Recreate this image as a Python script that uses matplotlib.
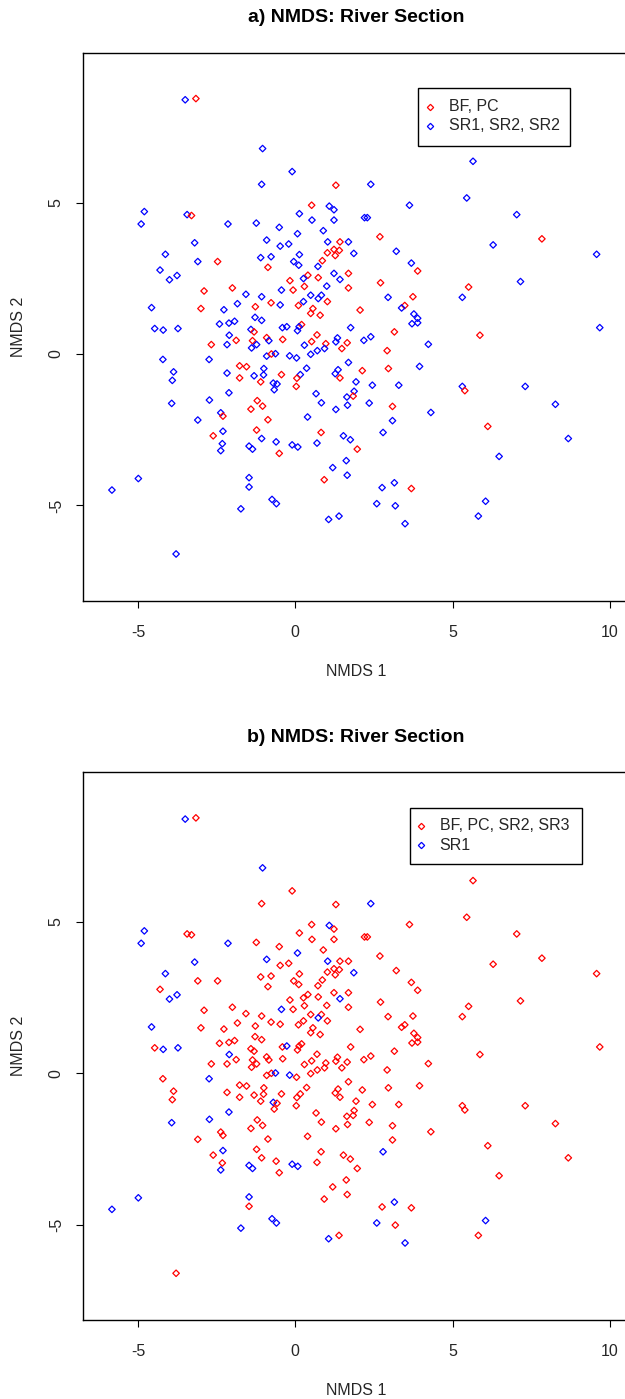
import matplotlib
matplotlib.use("Agg")
import matplotlib.pyplot as plt
from matplotlib.patches import Rectangle

plt.rcParams["font.family"] = ["Liberation Sans", "DejaVu Sans"]
plt.rcParams["axes.unicode_minus"] = False

# NMDS site scores (axis 1, axis 2) and river section of each site.
# "BF_PC" = BF or PC, "SR1" = SR1, "SR23" = SR2 or SR3
nmds1 = [
    -3.50, -3.16, -1.04, -0.10, -1.07, 1.29, -4.80, -4.90, -3.44, -3.30,
    -2.14, -3.20, -4.13, -3.10, -2.47, -4.30, -4.00, -3.76, -2.90, -2.00,
    -1.57, -4.57, -3.00, -2.27, -1.84, -2.41, -2.11, -1.93,
    5.65, 2.40, 5.45, 7.04, 7.84, 6.29, 9.58, 7.16, 5.51, 5.31,
    -4.47, -4.20, -3.73, -2.10, -1.88, -2.67, -2.17, -4.21, -2.74, -3.87,
    -3.91, -2.17, -1.77, -1.55, -1.77, -2.11, -3.93, -2.73, -2.37, -2.30,
    -3.10, -2.30, -2.61, -2.32, -2.37, -1.47, -4.99, -5.83, -1.47, -1.47,
    -1.73, -0.74, -0.60, 1.06, 1.39, -3.79, 0.92, 1.65,
    9.68, 5.87, 5.31, 5.39, 7.31, 8.27, 4.31, 6.12, 8.68, 6.48,
    2.76, 3.15, 3.69, 2.59, 3.18, 6.05, 5.82, 3.49,
    0.52, 1.08, 1.23, 3.63, 0.13, 0.53, 1.23, 2.20, 2.29, -1.24,
    -0.51, 0.89, 0.07, 2.69, -0.91, 1.03, 1.42, 1.69, -0.48, -0.21,
    1.23, 1.40, 1.02, 1.86, 3.21, 0.13, 1.27, -1.10, -0.77, 0.86,
    -0.05, 0.11, 0.72, 3.69, -0.87, 3.89, 1.23, 1.69, 0.40, 0.26,
    0.73, 1.42, -0.17, 2.71, 0.29, 1.00, 1.69, -0.44, -0.07, 0.49,
    0.83, 0.73, -1.07, 3.74, 2.95, 0.26, 1.02, -0.77, -0.48, 0.10,
    -1.27, 3.48, 3.38, 0.56, 2.06, 0.49, 0.79, 3.77, 3.89, 3.71,
    3.89, -1.28, -1.07, -0.41, -0.27, 0.20, 0.12, 0.07, 1.76, -1.41,
    -1.31, 3.15, -0.91, -0.84, -0.40, 0.69, 0.52, 1.34, 1.29, 2.40,
    2.18, 1.65, 4.23, -1.36, -1.23, -1.39, 0.29, 0.97, 0.93, 0.70,
    1.48, 2.92, 0.49, -0.91, -0.76, -0.63, -0.18, 0.04, 1.69, 3.95,
    -1.00, 0.36, 2.13, 2.96, 1.36, 1.27, -1.01, -1.31, -0.44, 0.16,
    1.42, 0.05, -1.10, -0.70, -0.58, 1.93, 2.45, 3.29, 0.03, -0.67,
    1.87, 1.84, 1.64, 0.66, 0.83, 2.35, -1.21, -1.04, 1.66, 3.09,
    -1.41, 1.29, -0.87, 0.39, 3.09, 0.82, -1.23, 2.79, 1.53, 1.75,
    -1.07, -0.61, -0.10, 0.08, 0.69, 1.97, -1.36, -0.51, 1.62, 1.19,
]
nmds2 = [
    8.39, 8.43, 6.78, 6.02, 5.60, 5.57, 4.70, 4.29, 4.60, 4.57,
    4.29, 3.67, 3.29, 3.05, 3.05, 2.77, 2.45, 2.59, 2.08, 2.18,
    1.97, 1.53, 1.50, 1.46, 1.66, 0.99, 1.02, 1.08,
    6.36, 5.60, 5.15, 4.60, 3.80, 3.60, 3.29, 2.39, 2.21, 1.87,
    0.84, 0.79, 0.84, 0.62, 0.45, 0.31, 0.31, -0.18, -0.18, -0.59,
    -0.87, -0.63, -0.39, -0.42, -0.79, -1.28, -1.63, -1.52, -1.94, -2.05,
    -2.18, -2.55, -2.70, -2.96, -3.19, -3.04, -4.11, -4.49, -4.08, -4.39,
    -5.11, -4.80, -4.94, -5.46, -5.35, -6.60, -4.15, -4.00,
    0.87, 0.62, -1.07, -1.21, -1.07, -1.66, -1.93, -2.39, -2.79, -3.38,
    -4.41, -4.25, -4.44, -4.94, -5.01, -4.86, -5.35, -5.60,
    4.91, 4.88, 4.76, 4.91, 4.63, 4.42, 4.42, 4.50, 4.50, 4.32,
    4.18, 4.07, 3.97, 3.87, 3.76, 3.70, 3.70, 3.70, 3.56, 3.63,
    3.45, 3.42, 3.34, 3.32, 3.39, 3.28, 3.25, 3.18, 3.21, 3.08,
    3.05, 2.93, 2.89, 3.00, 2.86, 2.74, 2.66, 2.66, 2.60, 2.49,
    2.52, 2.46, 2.42, 2.35, 2.23, 2.24, 2.18, 2.11, 2.11, 1.94,
    1.94, 1.83, 1.89, 1.89, 1.87, 1.73, 1.73, 1.69, 1.62, 1.60,
    1.56, 1.60, 1.52, 1.50, 1.45, 1.34, 1.28, 1.32, 1.18, 1.00,
    1.03, 1.21, 1.11, 0.87, 0.90, 0.97, 0.90, 0.77, 0.87, 0.81,
    0.73, 0.73, 0.54, 0.44, 0.48, 0.63, 0.41, 0.53, 0.40, 0.57,
    0.45, 0.37, 0.32, 0.44, 0.31, 0.20, 0.29, 0.34, 0.18, 0.11,
    0.18, 0.11, -0.01, -0.07, 0.00, 0.01, -0.06, -0.13, -0.28, -0.41,
    -0.48, -0.47, -0.55, -0.48, -0.52, -0.65, -0.69, -0.72, -0.68, -0.68,
    -0.79, -0.80, -0.92, -0.96, -0.99, -0.92, -1.03, -1.03, -1.07, -1.18,
    -1.23, -1.39, -1.42, -1.31, -1.61, -1.62, -1.54, -1.72, -1.69, -1.73,
    -1.82, -1.83, -2.17, -2.08, -2.20, -2.59, -2.51, -2.59, -2.70, -2.83,
    -2.79, -2.90, -3.00, -3.07, -2.94, -3.14, -3.14, -3.28, -3.52, -3.75,
]
section = [
    "SR1", "BF_PC", "SR1", "SR23", "SR23", "BF_PC", "SR1", "SR1", "SR23", "BF_PC",
    "SR1", "SR1", "SR1", "SR23", "BF_PC", "SR23", "SR1", "SR1", "BF_PC", "BF_PC",
    "SR23", "SR1", "BF_PC", "SR23", "SR23", "SR23", "SR23", "SR23",
    "SR23", "SR1", "SR23", "SR23", "BF_PC", "SR23", "SR23", "SR23", "BF_PC", "SR23",
    "SR23", "SR1", "SR1", "SR1", "BF_PC", "BF_PC", "SR23", "SR23", "SR1", "SR23",
    "SR23", "SR23", "BF_PC", "BF_PC", "BF_PC", "SR1", "SR1", "SR1", "SR23", "BF_PC",
    "SR23", "SR1", "BF_PC", "SR23", "SR1", "SR1", "SR1", "SR1", "SR1", "SR23",
    "SR1", "SR1", "SR1", "SR1", "SR23", "SR23", "BF_PC", "SR23",
    "SR23", "BF_PC", "SR23", "BF_PC", "SR23", "SR23", "SR23", "BF_PC", "SR23", "SR23",
    "SR23", "SR1", "BF_PC", "SR1", "SR23", "SR1", "SR23", "SR1",
    "BF_PC", "SR1", "SR23", "SR23", "SR23", "SR23", "SR23", "SR23", "SR23", "SR23",
    "SR23", "SR23", "SR1", "BF_PC", "SR1", "SR1", "BF_PC", "SR23", "SR23", "SR23",
    "BF_PC", "BF_PC", "BF_PC", "SR1", "SR23", "SR23", "BF_PC", "SR23", "SR23", "BF_PC",
    "SR23", "SR23", "SR23", "SR23", "BF_PC", "BF_PC", "SR23", "BF_PC", "BF_PC", "SR23",
    "BF_PC", "SR1", "BF_PC", "BF_PC", "BF_PC", "SR23", "BF_PC", "SR1", "BF_PC", "SR23",
    "SR23", "SR1", "SR23", "BF_PC", "SR23", "SR23", "BF_PC", "BF_PC", "SR23", "BF_PC",
    "BF_PC", "BF_PC", "SR23", "BF_PC", "BF_PC", "BF_PC", "BF_PC", "SR23", "SR23", "SR23",
    "SR23", "SR23", "SR23", "SR23", "SR1", "BF_PC", "SR23", "SR23", "SR23", "SR23",
    "BF_PC", "BF_PC", "BF_PC", "SR23", "BF_PC", "BF_PC", "BF_PC", "SR23", "SR23", "SR23",
    "SR23", "BF_PC", "SR23", "BF_PC", "SR23", "SR23", "SR23", "BF_PC", "SR23", "SR23",
    "BF_PC", "BF_PC", "SR23", "SR23", "BF_PC", "SR1", "SR1", "SR23", "SR23", "SR23",
    "SR23", "SR23", "BF_PC", "BF_PC", "SR23", "SR23", "SR23", "SR23", "BF_PC", "SR23",
    "BF_PC", "BF_PC", "BF_PC", "SR1", "SR23", "SR23", "SR23", "SR23", "BF_PC", "SR23",
    "SR23", "BF_PC", "SR23", "SR23", "SR23", "SR23", "BF_PC", "BF_PC", "SR23", "BF_PC",
    "BF_PC", "SR23", "BF_PC", "SR23", "SR23", "BF_PC", "BF_PC", "SR1", "SR23", "SR23",
    "SR23", "SR23", "SR1", "SR1", "SR23", "BF_PC", "SR1", "BF_PC", "SR23", "SR23",
]

titles = ["a) NMDS: River Section", "b) NMDS: River Section"]
legend_labels = [["BF, PC", "SR1, SR2, SR2"], ["BF, PC, SR2, SR3", "SR1"]]
blue_groups = [{"SR1", "SR23"}, {"SR1"}]

RED, BLUE = "#ff0000", "#0000ff"
TXT = "#262626"

W, H = 625.0, 1399.0
AX_LEFT, AX_W, AX_H = 83.3, 545.4, 548.3
ax_tops = [52.7, 772.0]
# legend boxes in pixels: left, right, top, bottom, marker x, text x, row y's
legend_px = [
    (418.0, 570.0, 88.3, 145.7, 430.3, 449.0, (106.7, 126.0)),
    (409.7, 582.3, 808.0, 864.3, 420.7, 439.7, (826.0, 845.3)),
]

fig = plt.figure(figsize=(6.25, 13.99), dpi=100)

for k in range(2):
    top = ax_tops[k]
    ax = fig.add_axes([AX_LEFT / W, (H - top - AX_H) / H, AX_W / W, AX_H / H])
    cols = [BLUE if s in blue_groups[k] else RED for s in section]
    ax.scatter(nmds1, nmds2, marker="D", s=11, facecolors="none",
               edgecolors=cols, linewidths=0.9)
    ax.set_xlim(-6.74, 10.60)
    ax.set_ylim(-8.152, 9.944)
    ax.set_xticks([-5, 0, 5, 10])
    ax.set_yticks([-5, 0, 5])
    ax.tick_params(axis="both", direction="out", length=5, width=0.8,
                   labelsize=11.5, colors="black", labelcolor=TXT)
    ax.tick_params(axis="x", pad=12)
    ax.tick_params(axis="y", pad=9)
    for lbl in ax.get_yticklabels():
        lbl.set_rotation(90)
        lbl.set_va("center")
    for side in ("top", "right", "bottom", "left"):
        ax.spines[side].set_linewidth(1.0)
    ax.set_xlabel("NMDS 1", fontsize=11.5, color=TXT)
    ax.set_ylabel("NMDS 2", fontsize=11.5, color=TXT)
    ax.xaxis.set_label_coords(0.5, -70.0 / AX_H)
    ax.xaxis.label.set_va("center")
    ax.yaxis.set_label_coords(-65.0 / AX_W, 0.5)
    ax.yaxis.label.set_va("center")
    ax.text(0.5, 1 + 35.0 / AX_H, titles[k], transform=ax.transAxes,
            ha="center", va="center", fontsize=14, fontweight="bold")

    # legend box
    def ax_x(px):
        return (px - AX_LEFT) / AX_W

    def ax_y(py):
        return 1 - (py - top) / AX_H

    l, r, t, b, mx, tx, rows = legend_px[k]
    ax.add_patch(Rectangle((ax_x(l), ax_y(b)), ax_x(r) - ax_x(l), ax_y(t) - ax_y(b),
                           transform=ax.transAxes, facecolor="white",
                           edgecolor="black", linewidth=1.0, zorder=5))
    for c, lab, ry in zip((RED, BLUE), legend_labels[k], rows):
        ax.plot([ax_x(mx)], [ax_y(ry)], transform=ax.transAxes, linestyle="none",
                marker="D", markersize=3.2, markerfacecolor="none",
                markeredgecolor=c, markeredgewidth=0.9, zorder=6)
        ax.text(ax_x(tx), ax_y(ry), lab, transform=ax.transAxes, ha="left",
                va="center", fontsize=11.5, color=TXT, zorder=6)

fig.savefig("out.png", dpi=100, facecolor="white")
